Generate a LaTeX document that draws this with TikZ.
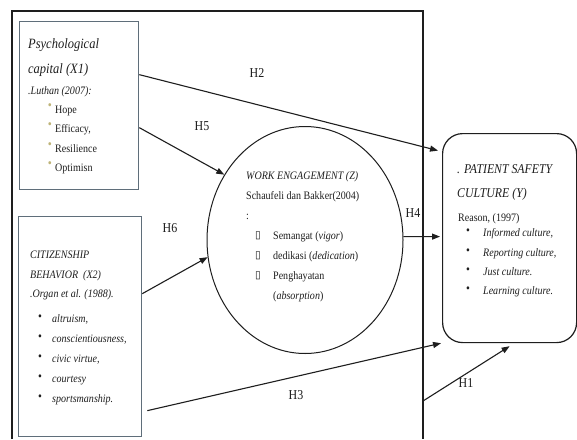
\documentclass[tikz,border=0pt]{standalone}
\usepackage{fontspec}
\setmainfont{Liberation Serif}[FakeStretch=0.88]
\newfontfamily\symfont{DejaVu Sans}
\usetikzlibrary{shapes.geometric,arrows.meta}
\definecolor{ink}{RGB}{30,30,30}
\definecolor{boxcol}{RGB}{95,110,122}
\definecolor{khaki}{RGB}{190,180,120}
\begin{document}
\begin{tikzpicture}[x=1pt,y=-1pt,
  lbl/.style={inner sep=0, anchor=base west, text=ink, font=\fontsize{11.4}{13}\selectfont},
  ilbl/.style={lbl, font=\fontsize{11.4}{13}\selectfont\itshape},
  ttl/.style={lbl, font=\fontsize{14.2}{16}\selectfont\itshape},
  yttl/.style={lbl, font=\fontsize{13.4}{15}\selectfont\itshape},
  hyp/.style={inner sep=0, anchor=center, text=ink, font=\fontsize{13.6}{15}\selectfont},
  conn/.style={draw=ink, line width=1.1pt, -{Triangle[length=8pt,width=6pt]}},
  srcbox/.style={draw=boxcol, line width=1.3pt, inner sep=0, anchor=north west},
  kdot/.style={inner sep=0, anchor=center, text=khaki, font=\fontsize{13}{13}\selectfont},
  bdot/.style={inner sep=0, anchor=center, text=ink, font=\fontsize{12.5}{12}\selectfont},
  sq/.style={inner sep=0, anchor=center, text=ink, font=\symfont\fontsize{10.5}{10.5}\selectfont},
  frame/.style={draw=ink, line width=1.2pt}
]
\fill[white] (0,0) rectangle (577,439);
\useasboundingbox (0,0) rectangle (577,439);

% outer frame
\draw[frame] (12,439) -- (12,11) -- (423,11) -- (423,439);

% boxes
\node[srcbox, minimum width=119pt, minimum height=168pt] (X1) at (19,21) {};
\node[srcbox, minimum width=123pt, minimum height=220pt] (X2) at (18,216) {};
\node[draw=ink, line width=1.2pt, rounded corners=20pt, inner sep=0, anchor=north west,
      minimum width=134pt, minimum height=209pt] (Y) at (442,133) {};
\node[draw=ink, line width=1pt, ellipse, inner sep=0, minimum width=196pt, minimum height=227pt] (Z) at (305,240) {};

% X1 text
\node[ttl] (x1a) at (28,48.5) {Psychological};
\node[ttl] (x1b) at (28,73.5) {capital (X1)};
\node[ilbl] (x1c) at (28,94.5) {.Luthan (2007):};
\node[kdot] (x1d1) at (50,107) {•};
\node[kdot] (x1d2) at (50,126) {•};
\node[kdot] (x1d3) at (50,145.5) {•};
\node[kdot] (x1d4) at (50,165) {•};
\node[lbl] (x1e1) at (55,113.5) {Hope};
\node[lbl] (x1e2) at (55,132.5) {Efficacy,};
\node[lbl] (x1e3) at (55,152) {Resilience};
\node[lbl] (x1e4) at (55,171.5) {Optimisn};

% X2 text
\node[ilbl] (x2a) at (30,258.5) {CITIZENSHIP};
\node[ilbl] (x2b) at (30,278.5) {BEHAVIOR\ \ (X2)};
\node[ilbl] (x2c) at (30,297.5) {.Organ et al. (1988).};
\node[bdot] (x2d1) at (40,318) {•};
\node[bdot] (x2d2) at (40,338) {•};
\node[bdot] (x2d3) at (40,358) {•};
\node[bdot] (x2d4) at (40,378) {•};
\node[bdot] (x2d5) at (40,398) {•};
\node[ilbl] (x2e1) at (52,322.5) {altruism,};
\node[ilbl] (x2e2) at (52,342.5) {conscientiousness,};
\node[ilbl] (x2e3) at (52,362.5) {civic virtue,};
\node[ilbl] (x2e4) at (52,382.5) {courtesy};
\node[ilbl] (x2e5) at (52,402.5) {sportsmanship.};

% Z text
\node[ilbl] (za) at (246,179.5) {WORK ENGAGEMENT (Z)};
\node[lbl] (zb) at (246,199.5) {Schaufeli dan Bakker(2004)};
\node[lbl] (zc) at (246,219.5) {:};
\node[sq] (zs1) at (258,235.5) {▯};
\node[sq] (zs2) at (258,255.5) {▯};
\node[sq] (zs3) at (258,275.5) {▯};
\node[lbl] (zd1) at (273,239.5) {Semangat (\textit{vigor})};
\node[lbl] (zd2) at (273,259.5) {dedikasi (\textit{dedication})};
\node[lbl] (zd3) at (273,279.5) {Penghayatan};
\node[lbl] (zd4) at (273,299.5) {(\textit{absorption})};

% Y text
\node[yttl] (ya) at (457,173) {. PATIENT SAFETY};
\node[yttl] (yb) at (457,197) {CULTURE (Y)};
\node[lbl] (yc) at (458,221.5) {Reason, (1997)};
\node[bdot] (yd1) at (468,232) {•};
\node[bdot] (yd2) at (468,251.5) {•};
\node[bdot] (yd3) at (468,271) {•};
\node[bdot] (yd4) at (468,290) {•};
\node[ilbl] (ye1) at (483,236.5) {Informed culture,};
\node[ilbl] (ye2) at (483,256) {Reporting culture,};
\node[ilbl] (ye3) at (483,275.5) {Just culture.};
\node[ilbl] (ye4) at (483,294.5) {Learning culture.};

% connectors
\coordinate (h1s) at (423,401);
\draw[conn] ([yshift=31pt]X1.east) -- ([xshift=-4pt,yshift=87.5pt]Y.west);
\draw[conn] ([yshift=-22pt]X1.east) -- (Z.141);
\draw[conn] ([yshift=33pt]X2.east) -- (Z.190);
\draw[conn] ([xshift=5pt,yshift=-84pt]X2.east) -- ([xshift=-1pt]Y.south west);
\draw[conn] (Z.2) -- ([xshift=-2pt,yshift=1.5pt]Y.west);
\draw[conn] (h1s) -- ([yshift=-3pt]Y.south);

% hypothesis labels
\node[hyp] (H2) at (257,73) {H2};
\node[hyp] (H5) at (202,126) {H5};
\node[hyp] (H6) at (170,228) {H6};
\node[hyp] (H4) at (413,213) {H4};
\node[hyp] (H3) at (296,395) {H3};
\node[hyp] (H1) at (466,383) {H1};
\end{tikzpicture}
\end{document}
